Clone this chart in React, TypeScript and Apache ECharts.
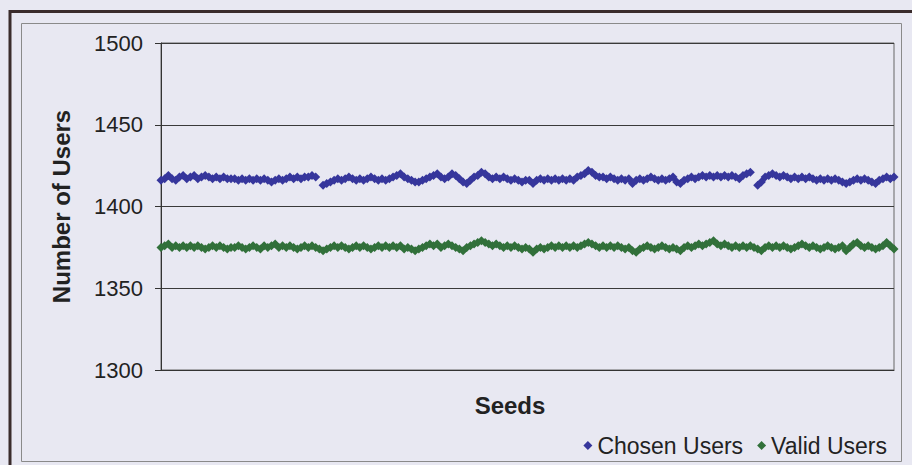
import React, { useEffect, useRef } from "react";
import * as echarts from "echarts";

// Seeds (x categories), 200 runs
const seeds: string[] = Array.from({ length: 200 }, (_, i) => String(i + 1));

const yTicks = { min: 1300, max: 1500, interval: 50 };

// Chosen Users (blue); null marks the breaks in the line
const chosenUsers: (number | null)[] = [
  1416, 1417, 1419, 1417, 1416, 1418, 1419, 1417, 1418, 1419, 1417, 1418, 1419, 1418, 1417, 1418, 1417, 1418, 1417, 1417,
  1417, 1416, 1417, 1416, 1417, 1416, 1417, 1416, 1417, 1416, 1415, 1416, 1417, 1416, 1417, 1418, 1417, 1418, 1417, 1418,
  1418, 1419, 1418, null, 1413, 1414, 1415, 1416, 1417, 1416, 1417, 1418, 1417, 1416, 1417, 1416, 1417, 1418, 1417, 1416,
  1417, 1416, 1417, 1418, 1419, 1420, 1418, 1417, 1416, 1415, 1415, 1416, 1417, 1418, 1419, 1420, 1418, 1417, 1418, 1420,
  1419, 1417, 1415, 1414, 1416, 1418, 1419, 1421, 1420, 1418, 1417, 1418, 1417, 1418, 1417, 1416, 1417, 1416, 1415, 1416,
  1416, 1414, 1416, 1417, 1416, 1417, 1416, 1417, 1416, 1417, 1416, 1417, 1416, 1418, 1419, 1420, 1422, 1421, 1419, 1418,
  1418, 1417, 1418, 1417, 1416, 1417, 1416, 1417, 1414, 1416, 1417, 1416, 1417, 1418, 1417, 1416, 1417, 1416, 1417, 1418,
  1415, 1414, 1416, 1417, 1418, 1417, 1418, 1419, 1418, 1419, 1418, 1419, 1418, 1419, 1418, 1419, 1418, 1417, 1419, 1420,
  1421, null, 1413, 1415, 1418, 1419, 1420, 1419, 1418, 1419, 1418, 1417, 1418, 1417, 1418, 1417, 1418, 1417, 1416, 1417,
  1416, 1417, 1416, 1417, 1416, 1415, 1414, 1415, 1416, 1417, 1416, 1417, 1416, 1415, 1414, 1416, 1417, 1418, 1417, 1418,
];

// Valid Users (green)
const validUsers: number[] = [
  1375, 1376, 1377, 1375, 1376, 1375, 1376, 1375, 1376, 1375, 1376, 1375, 1374, 1375, 1376, 1375, 1376, 1375, 1374, 1375,
  1375, 1376, 1375, 1374, 1375, 1376, 1375, 1374, 1376, 1375, 1376, 1377, 1375, 1376, 1375, 1376, 1375, 1374, 1375, 1376,
  1375, 1376, 1375, 1374, 1373, 1374, 1375, 1376, 1375, 1376, 1375, 1374, 1375, 1376, 1375, 1376, 1375, 1374, 1375, 1376,
  1375, 1376, 1375, 1376, 1375, 1376, 1374, 1375, 1374, 1373, 1374, 1375, 1376, 1377, 1376, 1377, 1375, 1376, 1377, 1376,
  1375, 1374, 1373, 1375, 1376, 1377, 1378, 1379, 1378, 1377, 1376, 1377, 1376, 1375, 1376, 1375, 1376, 1375, 1374, 1375,
  1374, 1372, 1374, 1375, 1374, 1375, 1376, 1375, 1376, 1375, 1376, 1375, 1376, 1375, 1376, 1377, 1378, 1377, 1376, 1375,
  1376, 1375, 1376, 1375, 1376, 1375, 1374, 1375, 1373, 1372, 1374, 1375, 1376, 1375, 1374, 1375, 1376, 1375, 1374, 1375,
  1374, 1373, 1375, 1376, 1375, 1376, 1377, 1376, 1377, 1378, 1379, 1377, 1376, 1377, 1376, 1375, 1376, 1375, 1376, 1375,
  1376, 1375, 1374, 1373, 1375, 1376, 1375, 1376, 1375, 1376, 1375, 1374, 1375, 1376, 1377, 1376, 1375, 1376, 1375, 1374,
  1375, 1376, 1375, 1374, 1375, 1376, 1373, 1375, 1377, 1378, 1376, 1375, 1376, 1375, 1374, 1375, 1376, 1378, 1376, 1374,
];

const seriesNames = ["Chosen Users", "Valid Users"];
const seriesColors = ["#36369c", "#31703a"];
const lineColors = ["#2a2a82", "#2a5e2e"];

const FONT = "'Liberation Sans', Arial, sans-serif";

export default function App() {
  const ref = useRef<HTMLDivElement>(null);

  useEffect(() => {
    document.body.style.margin = "0";
    if (!ref.current) return;
    const chart = echarts.init(ref.current, undefined, { renderer: "svg" });
    chart.setOption({
      animation: false,
      backgroundColor: "#e8e8f2",
      textStyle: { fontFamily: FONT },
      graphic: [
        {
          type: "rect",
          shape: { x: 10, y: 11.5, width: 930, height: 480 },
          style: { fill: "none", stroke: "#3a2c2c", lineWidth: 3 },
          silent: true,
        },
        {
          type: "rect",
          shape: { x: 21.5, y: 23.5, width: 880, height: 438 },
          style: { fill: "none", stroke: "#8a8a8a", lineWidth: 1 },
          silent: true,
        },
        {
          type: "text",
          x: 510,
          y: 405,
          style: {
            text: "Seeds",
            fontFamily: FONT,
            fontSize: 24,
            fontWeight: "bold",
            fill: "#222",
            align: "center",
            verticalAlign: "middle",
          },
          silent: true,
        },
      ],
      grid: {
        left: 161,
        right: 18,
        top: 43,
        bottom: 95,
        show: true,
        borderColor: "#666",
        borderWidth: 1,
        backgroundColor: "transparent",
      },
      legend: {
        right: 20,
        top: 429,
        itemWidth: 9,
        itemHeight: 9,
        itemGap: 14,
        icon: "diamond",
        textStyle: { fontFamily: FONT, fontSize: 23, color: "#222" },
        data: seriesNames,
      },
      xAxis: {
        type: "category",
        data: seeds,
        boundaryGap: false,
        axisLine: { show: true, lineStyle: { color: "#333", width: 1 } },
        axisTick: { show: false },
        axisLabel: { show: false },
        splitLine: { show: false },
      },
      yAxis: {
        type: "value",
        min: yTicks.min,
        max: yTicks.max,
        interval: yTicks.interval,
        axisLine: { show: true, lineStyle: { color: "#333", width: 1 } },
        axisTick: { show: true, length: 6, lineStyle: { color: "#333" } },
        axisLabel: {
          fontFamily: FONT,
          fontSize: 22,
          color: "#222",
          margin: 18,
          formatter: (v: number) => String(v),
        },
        splitLine: { show: true, lineStyle: { color: "#3a3a3a", width: 1 } },
        name: "Number of Users",
        nameLocation: "middle",
        nameGap: 88,
        nameTextStyle: { fontFamily: FONT, fontSize: 24, fontWeight: "bold", color: "#222" },
      },
      series: [
        {
          name: seriesNames[0],
          type: "line",
          data: chosenUsers,
          symbol: "diamond",
          symbolSize: 9,
          showSymbol: true,
          showAllSymbol: true,
          connectNulls: false,
          itemStyle: { color: seriesColors[0] },
          lineStyle: { color: lineColors[0], width: 3.5 },
        },
        {
          name: seriesNames[1],
          type: "line",
          data: validUsers,
          symbol: "diamond",
          symbolSize: 9,
          showSymbol: true,
          showAllSymbol: true,
          itemStyle: { color: seriesColors[1] },
          lineStyle: { color: lineColors[1], width: 3.5 },
        },
      ],
    });
    return () => chart.dispose();
  }, []);

  return (
    <div
      ref={ref}
      style={{ position: "absolute", left: 0, top: 0, width: 912, height: 465 }}
    />
  );
}
